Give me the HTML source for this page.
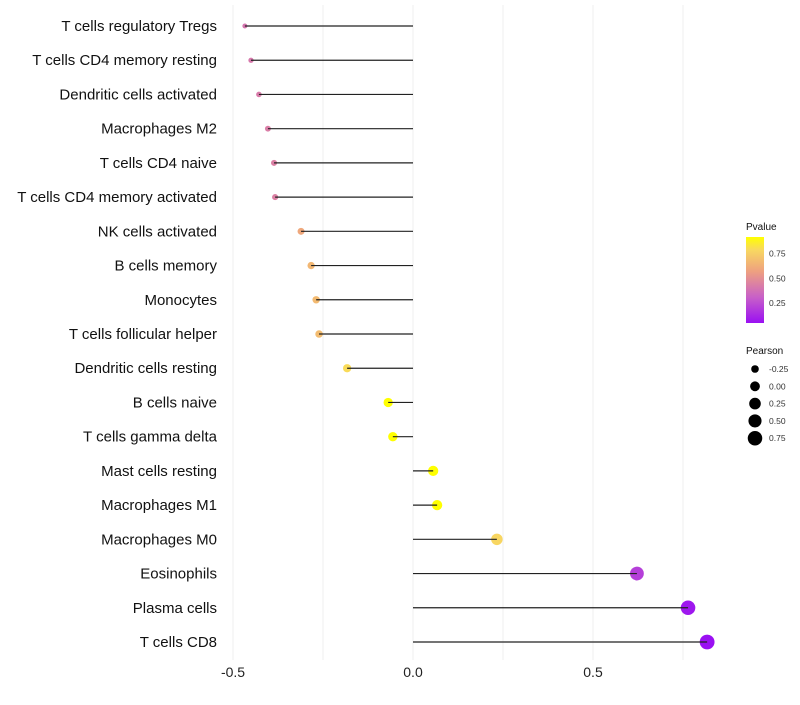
<!DOCTYPE html>
<html><head><meta charset="utf-8"><style>
body{margin:0;background:#fff;font-family:"Liberation Sans",sans-serif}
</style></head><body>
<svg id="chart" width="800" height="700" xmlns="http://www.w3.org/2000/svg">
<defs><linearGradient id="pg" x1="0" y1="1" x2="0" y2="0">
<stop offset="0" stop-color="#9a10f2"/><stop offset="0.3" stop-color="#c860c8"/><stop offset="0.6" stop-color="#eea080"/><stop offset="0.85" stop-color="#f8d860"/><stop offset="1" stop-color="#ffff00"/></linearGradient></defs>
<g id="grid"></g><g id="marks"></g><g id="labels"></g><g id="legend"></g>
</svg>
<script>
const categories=["T cells regulatory  Tregs","T cells CD4 memory resting","Dendritic cells activated","Macrophages M2","T cells CD4 naive","T cells CD4 memory activated","NK cells activated","B cells memory","Monocytes","T cells follicular helper","Dendritic cells resting","B cells naive","T cells gamma delta","Mast cells resting","Macrophages M1","Macrophages M0","Eosinophils","Plasma cells","T cells CD8"];
const pearson=[-0.467,-0.45,-0.428,-0.403,-0.386,-0.383,-0.311,-0.283,-0.269,-0.261,-0.183,-0.069,-0.056,0.056,0.067,0.233,0.622,0.764,0.817];
const pvalues=[0.4,0.41,0.42,0.43,0.44,0.44,0.6,0.66,0.67,0.68,0.8,0.93,0.93,0.93,0.93,0.78,0.2,0.07,0.03];
const xTicks=[-0.5,0,0.5];
const xTickLabels=["-0.5","0.0","0.5"];
const sizeLegendVals=[-0.25,0,0.25,0.5,0.75];
const colorLegendVals=[0.25,0.5,0.75];
const NS="http://www.w3.org/2000/svg";
const xs=v=>413+v*360;
const ys=i=>26+i*(616/18);
const rs=v=>Math.sqrt(Math.max(2,24+38*v));
const stops=[[0,[154,16,242]],[0.3,[200,96,200]],[0.6,[238,160,128]],[0.85,[248,216,96]],[1,[255,255,0]]];
function col(p){const t=Math.min(1,Math.max(0,(p-0.046)/(0.92-0.046)));
for(let k=1;k<stops.length;k++){if(t<=stops[k][0]){const a=stops[k-1],b=stops[k],f=(t-a[0])/(b[0]-a[0]);
return "rgb("+a[1].map((c,j)=>Math.round(c+(b[1][j]-c)*f)).join(",")+")";}}return "rgb(255,255,0)";}
function mk(tag,at,parent){const e=document.createElementNS(NS,tag);for(const k in at)e.setAttribute(k,at[k]);document.getElementById(parent).appendChild(e);return e;}
for(let v=-0.5;v<=0.75;v+=0.25){const g=mk("line",{x1:xs(v),x2:xs(v),y1:5,y2:660,stroke:"#efefef","stroke-width":1},"grid");

}
xTicks.forEach((v,i)=>{const t=mk("text",{x:xs(v),y:677,"text-anchor":"middle","font-size":14,fill:"#222"},"labels");t.textContent=xTickLabels[i];

});
categories.forEach((c,i)=>{const y=ys(i);
const t=mk("text",{x:217,y:y+5,"text-anchor":"end","font-size":15,fill:"#111"},"labels");t.textContent=c;


const d=mk("circle",{cx:xs(pearson[i]),cy:y,r:rs(pearson[i]),fill:col(pvalues[i])},"marks");


const l=mk("line",{x1:xs(0),x2:xs(pearson[i]),y1:y,y2:y,stroke:"#222","stroke-width":1.2},"marks");

});
const lt=mk("text",{x:746,y:230,"font-size":10,fill:"#111"},"legend");lt.textContent="Pvalue";


const cb=mk("rect",{x:746,y:237,width:18,height:86,fill:"url(#pg)"},"legend");


colorLegendVals.forEach(v=>{const y=323-(v-0.046)/(0.92-0.046)*86;
const t=mk("text",{x:769,y:y+3,"font-size":8.5,fill:"#333"},"legend");t.textContent=v.toFixed(2);

});
const st=mk("text",{x:746,y:354,"font-size":10,fill:"#111"},"legend");st.textContent="Pearson";


sizeLegendVals.forEach((v,i)=>{const y=369+i*17.3;
const c=mk("circle",{cx:755,cy:y,r:rs(v),fill:"#000"},"legend");


const t=mk("text",{x:769,y:y+3,"font-size":8.5,fill:"#333"},"legend");t.textContent=v.toFixed(2);

});
</script>
</body></html>
